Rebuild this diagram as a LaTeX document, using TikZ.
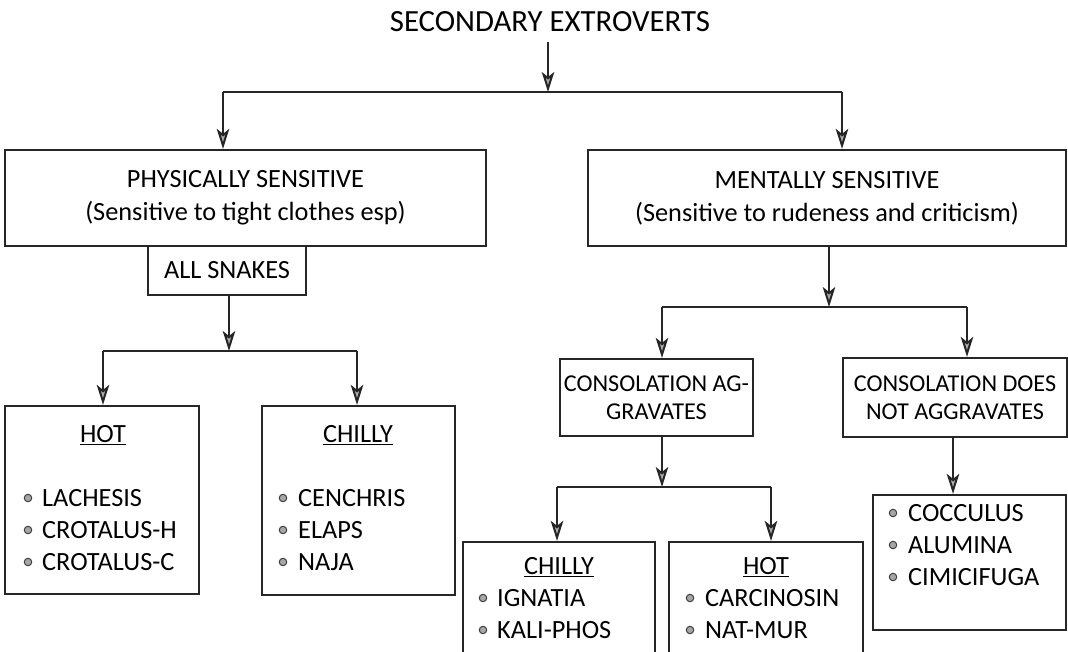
\documentclass[tikz,border=0pt]{standalone}
\usepackage{fontspec}
\setmainfont{Carlito}
\usetikzlibrary{arrows.meta}
\begin{document}
\begin{tikzpicture}[x=1pt,y=-1pt,
  every node/.style={font=\fontsize{26.3}{33}\selectfont, text=black},
  box/.style={draw=black!85, line width=2.2pt, inner sep=0pt, align=center},
  smallbox/.style={box, font=\fontsize{24.2}{28}\selectfont},
  item/.style={anchor=west, inner sep=0pt},
  ttl/.style={inner sep=0pt},
  bul/.style={circle, draw=black!75, fill=gray!70, line width=1pt, minimum size=7.5pt, inner sep=0pt},
  link/.style={draw=black!85, line width=2pt},
  arr/.style={link, -{Stealth[length=20pt,width=12.5pt,inset=5pt,fill=gray!65]}}
]
\useasboundingbox (0,0) rectangle (1068,652);
\clip (0,0) rectangle (1068,652);

% title
\node[ttl, font=\fontsize{30.8}{36}\selectfont] (title) at (550,22) {SECONDARY EXTROVERTS};

% main boxes
\node[box, minimum width=481pt, minimum height=96pt] (phys) at (245.5,198)
  {PHYSICALLY SENSITIVE\\(Sensitive to tight clothes esp)};
\node[box, minimum width=478pt, minimum height=96pt] (mental) at (827,198)
  {MENTALLY SENSITIVE\\(Sensitive to rudeness and criticism)};
\node[box, minimum width=158pt, minimum height=49pt] (snakes) at (227,270.5) {ALL SNAKES};

\node[box, minimum width=194pt, minimum height=188pt] (hot1) at (102,500) {};
\node[box, minimum width=193pt, minimum height=189pt] (chilly1) at (358.5,500.5) {};

\node[smallbox, minimum width=193pt, minimum height=77pt] (consag) at (656.5,397.5)
  {CONSOLATION AG-\\GRAVATES};
\node[smallbox, minimum width=224pt, minimum height=79pt] (consnot) at (955,397.5)
  {CONSOLATION DOES\\NOT AGGRAVATES};

\node[box, minimum width=192pt, minimum height=140pt] (chilly2) at (559,612) {};
\node[box, minimum width=194pt, minimum height=140pt] (hot2) at (766,612) {};
\node[box, minimum width=193pt, minimum height=135pt] (rem) at (969.5,562.5) {};

% HOT (snakes)
\node[ttl] (hot1t) at (103,435) {\underline{HOT}};
\node[bul] (hot1ab) at (28,498) {};  \node[item] (hot1a) at (42,498) {LACHESIS};
\node[bul] (hot1bb) at (28,530) {};  \node[item] (hot1b) at (42,530) {CROTALUS-H};
\node[bul] (hot1cb) at (28,562) {};  \node[item] (hot1c) at (42,562) {CROTALUS-C};

% CHILLY (snakes)
\node[ttl] (chilly1t) at (358,435) {\underline{CHILLY}};
\node[bul] (ch1ab) at (283,498) {};  \node[item] (ch1a) at (298,498) {CENCHRIS};
\node[bul] (ch1bb) at (283,530) {};  \node[item] (ch1b) at (298,530) {ELAPS};
\node[bul] (ch1cb) at (283,562) {};  \node[item] (ch1c) at (298,562) {NAJA};

% CHILLY (consolation)
\node[ttl] (chilly2t) at (559,567) {\underline{CHILLY}};
\node[bul] (ch2ab) at (483,598) {};  \node[item] (ch2a) at (497,598) {IGNATIA};
\node[bul] (ch2bb) at (483,630) {};  \node[item] (ch2b) at (497,630) {KALI-PHOS};

% HOT (consolation)
\node[ttl] (hot2t) at (766,567) {\underline{HOT}};
\node[bul] (hot2ab) at (690,598) {};  \node[item] (hot2a) at (705,598) {CARCINOSIN};
\node[bul] (hot2bb) at (690,630) {};  \node[item] (hot2b) at (705,630) {NAT-MUR};

% remedies
\node[bul] (remab) at (893,513) {};  \node[item] (rema) at (908,513) {COCCULUS};
\node[bul] (rembb) at (893,545) {};  \node[item] (remb) at (908,545) {ALUMINA};
\node[bul] (remcb) at (893,577) {};  \node[item] (remc) at (908,577) {CIMICIFUGA};

% connectors
\coordinate (s0) at (548,92);
\coordinate (sL) at (223,92);
\coordinate (sR) at (842,92);
\draw[arr, shorten <=10pt] (title.south -| s0) -- (s0);
\draw[link] (sL) -- (sR);
\draw[arr] (sL) -- (sL |- phys.north);
\draw[arr] (sR) -- (sR |- mental.north);

\coordinate (t0) at (229,351);
\coordinate (tL) at (103,351);
\coordinate (tR) at (357,351);
\draw[arr] (snakes.south -| t0) -- (t0);
\draw[link] (tL) -- (tR);
\draw[arr] (tL) -- (tL |- hot1.north);
\draw[arr] (tR) -- (tR |- chilly1.north);

\coordinate (m0) at (829,307);
\coordinate (mL) at (662,307);
\coordinate (mR) at (967,307);
\draw[arr] (mental.south -| m0) -- (m0);
\draw[link] (mL) -- (mR);
\draw[arr] (mL) -- (mL |- consag.north);
\draw[arr] (mR) -- (mR |- consnot.north);

\coordinate (c0) at (662,487);
\coordinate (cL) at (557,487);
\coordinate (cR) at (771,487);
\draw[arr] (consag.south -| c0) -- (c0);
\draw[link] (cL) -- (cR);
\draw[arr] (cL) -- (cL |- chilly2.north);
\draw[arr] (cR) -- (cR |- hot2.north);

\coordinate (n0) at (953,495);
\draw[arr] (consnot.south -| n0) -- (rem.north -| n0);
\end{tikzpicture}
\end{document}
